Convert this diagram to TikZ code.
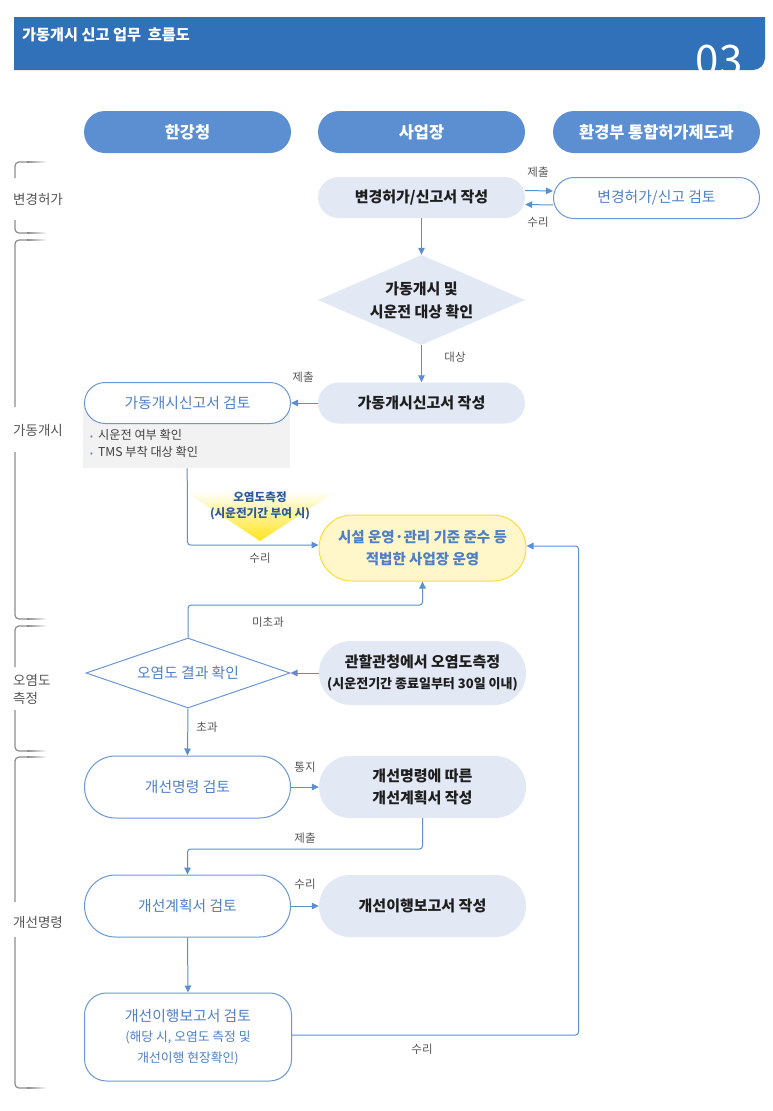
\documentclass[tikz,border=0pt]{standalone}
\usepackage{fontspec}
\setmainfont{Noto Sans CJK KR}
\usetikzlibrary{arrows.meta,shapes.geometric,shapes.misc,calc}
\definecolor{hdr}{HTML}{3171BA}
\definecolor{colc}{HTML}{5C8FD2}
\definecolor{nfill}{HTML}{E3E8F5}
\definecolor{oblue}{HTML}{6B97D6}
\definecolor{tblue}{HTML}{4F7FC6}
\definecolor{ablue}{HTML}{5B8FD0}
\definecolor{dtext}{HTML}{1E1E1E}
\definecolor{lgray}{HTML}{555555}
\definecolor{gboxc}{HTML}{F2F2F2}
\definecolor{yfill}{HTML}{FFF7C9}
\definecolor{ydraw}{HTML}{FFDB3C}
\definecolor{yelc}{HTML}{FFE41A}
\definecolor{tritext}{HTML}{2D5A9E}
\definecolor{brkc}{HTML}{8C8C8C}
\newcommand{\myfs}[2]{\fontsize{#1}{#2}\selectfont}
\newcommand{\brkt}[4]{%
  \draw[brk,rounded corners=4pt] (27,#1) -- (15,#1) -- (15,#2);
  \draw[brk,rounded corners=4pt] (15,#3) -- (15,#4) -- (27,#4);
  \shade[left color=brkc, right color=white] (27,#1-0.6) rectangle (47,#1+0.6);
  \shade[left color=brkc, right color=white] (27,#4-0.6) rectangle (47,#4+0.6);
}
\tikzset{
  brk/.style={draw=brkc, line width=1.2pt},
  sidelbl/.style={anchor=west, text=lgray, font=\myfs{13.5}{18}, align=left, inner sep=0},
  colhdr/.style={rounded rectangle, fill=colc, text=white, font=\bfseries\myfs{16.4}{19}, minimum width=207pt, minimum height=42pt, inner sep=0},
  fnode/.style={rounded rectangle, fill=nfill, text=dtext, font=\bfseries\myfs{15}{22}, minimum width=207pt, minimum height=41pt, align=center, inner sep=0},
  wnode/.style={rounded rectangle, draw=oblue, line width=1pt, fill=white, text=tblue, font=\myfs{14.8}{21}, minimum width=206pt, minimum height=41pt, align=center, inner sep=0},
  lbl/.style={font=\myfs{11.5}{13}, text=lgray, inner sep=0},
  arr/.style={draw=ablue, line width=1pt, -{Triangle[length=7pt,width=6.5pt]}},
  bul/.style={anchor=west, font=\myfs{12.2}{14}, text=dtext!85, inner sep=0},
  tri/.style={font=\bfseries\myfs{11.6}{13}, text=tritext, inner sep=0},
}
\begin{document}
\begin{tikzpicture}[x=1pt,y=-1pt]
\useasboundingbox (0,0) rectangle (773,1111);
\fill[white] (0,0) rectangle (773,1111);

% header
\fill[hdr] (14,17) -- (765,17) -- (765,58) .. controls (765,64.6) and (759.6,70) .. (753,70) -- (14,70) -- cycle;
\node[anchor=west, text=white, font=\bfseries\myfs{15.2}{17}, inner sep=0] (title) at (22,35) {가동개시 신고 업무\ \ 흐름도};
\begin{scope}
  \clip (14,17) -- (765,17) -- (765,58) .. controls (765,64.6) and (759.6,70) .. (753,70) -- (14,70) -- cycle;
  \node[anchor=base, text=white, font=\myfs{42}{44}, inner sep=0] (num) at (719,75) {03};
\end{scope}

% column headers
\node[colhdr] (h1) at (187.5,132) {한강청};
\node[colhdr] (h2) at (421.5,132) {사업장};
\node[colhdr] (h3) at (656.5,132) {환경부 통합허가제도과};

% side brackets
\brkt{162}{178}{220}{233}
\node[sidelbl] (s1) at (13,199) {변경허가};
\brkt{240}{407}{452}{619}
\node[sidelbl] (s2) at (13,430) {가동개시};
\brkt{626}{667}{710}{751}
\node[sidelbl] (s3) at (13,689) {오염도\\측정};
\brkt{757}{902}{937}{1088}
\node[sidelbl] (s4) at (13,922) {개선명령};

% row 1
\node[fnode] (n1) at (421.5,197.5) {변경허가/신고서 작성};
\node[wnode] (n2) at (656.5,198) {변경허가/신고 검토};
\draw[arr] ([yshift=7pt]n1.east) -- ([yshift=7pt]n2.west);
\draw[arr] ([yshift=-7pt]n2.west) -- ([yshift=-7pt]n1.east);
\node[lbl] (l1) at (538,172) {제출};
\node[lbl] (l2) at (538,222) {수리};

% diamond 1
\node[diamond, fill=nfill, text=dtext, font=\bfseries\myfs{15}{23}, align=center, minimum width=207pt, minimum height=90pt, inner sep=0, aspect=2.3] (d1) at (421.5,300) {가동개시 및\\시운전 대상 확인};
\draw[arr] (n1.south) -- (d1.north);

\node[fnode] (n3) at (421.5,403) {가동개시신고서 작성};
\draw[arr] (d1.south) -- (n3.north);
\node[lbl] (l3) at (455,357) {대상};

% gray box + review
\node[fill=gboxc, anchor=north west, minimum width=207pt, minimum height=65pt, inner sep=0] (gb) at (83,403) {};
\node[wnode] (n4) at (187.5,403) {가동개시신고서 검토};
\node[bul] (b1) at (90,435) {\textcolor{ablue}{\scalebox{0.7}{•}}\hspace{5pt}시운전 여부 확인};
\node[bul] (b2) at (90,452) {\textcolor{ablue}{\scalebox{0.7}{•}}\hspace{5pt}TMS 부착 대상 확인};
\draw[arr] (n3.west) -- (n4.east);
\node[lbl] (l4) at (303,377) {제출};

% yellow triangle
\shade[top color=white, bottom color=yelc] (184,491) -- (337,491) -- (260,541) -- cycle;
\node[tri] (t1) at (260,497) {오염도측정};
\node[tri] (t2) at (260,514) {(시운전기간 부여 시)};

% yellow node
\node[rounded rectangle, fill=yfill, draw=ydraw, line width=1pt, text=tblue, font=\bfseries\myfs{14.5}{22}, align=center, minimum width=207pt, minimum height=66pt, inner sep=0] (ny) at (422.5,548) {시설 운영·관리 기준 준수 등\\적법한 사업장 운영};
\draw[arr, rounded corners=3pt] ([xshift=0.5pt]gb.south) -- (187.5,545) -- ([yshift=3pt]ny.west);
\node[lbl] (l5) at (260,558) {수리};

% diamond 2
\node[diamond, draw=oblue, line width=1pt, fill=white, text=tblue, font=\myfs{14.8}{20}, minimum width=204pt, minimum height=70pt, inner sep=0, aspect=2.9] (d2) at (188,673) {오염도 결과 확인};
\node[fnode, minimum height=64pt, font=\bfseries\myfs{13}{20.5}] (n5) at (422.5,673) {{\myfs{15}{20.5}관할관청에서 오염도측정}\\(시운전기간 종료일부터 30일 이내)};
\draw[arr] (n5.west) -- (d2.east);
\draw[arr, rounded corners=3pt] (d2.north) -- (188,605) -- (422.5,605) -- (ny.south);
\node[lbl] (l6) at (268,622) {미초과};

% improvement order
\node[wnode, minimum height=62pt] (n6) at (187.5,787) {개선명령 검토};
\draw[arr] (d2.south) -- (n6.north);
\node[lbl] (l7) at (207,727) {초과};
\node[fnode, minimum height=62pt] (n7) at (422.5,787) {개선명령에 따른\\개선계획서 작성};
\draw[arr] (n6.east) -- (n7.west);
\node[lbl] (l8) at (305,767) {통지};

\node[wnode, minimum height=62pt] (n8) at (187.5,906) {개선계획서 검토};
\node[fnode, minimum height=62pt] (n9) at (422.5,906) {개선이행보고서 작성};
\draw[arr, rounded corners=3pt] (n7.south) -- (422.5,849) -- (187.5,849) -- (n8.north);
\node[lbl] (l9) at (305,838) {제출};
\draw[arr] (n8.east) -- (n9.west);
\node[lbl] (l10) at (305,884) {수리};

\node[rectangle, rounded corners=22pt, draw=oblue, line width=1pt, fill=white, text=tblue, align=center, font=\myfs{12.8}{20.5}, minimum width=207pt, minimum height=88pt, inner sep=0] (n10) at (188,1037) {{\myfs{14.8}{20.5}개선이행보고서 검토}\\(해당 시, 오염도 측정 및\\개선이행 현장확인)};
\draw[arr] (n8.south) -- (n10.north);
\draw[arr, rounded corners=3pt] ([yshift=2pt]n10.east) -- (578.5,1035) -- (578.5,546) -- ([yshift=2pt]ny.east);
\node[lbl] (l11) at (422,1049) {수리};
\end{tikzpicture}
\end{document}
